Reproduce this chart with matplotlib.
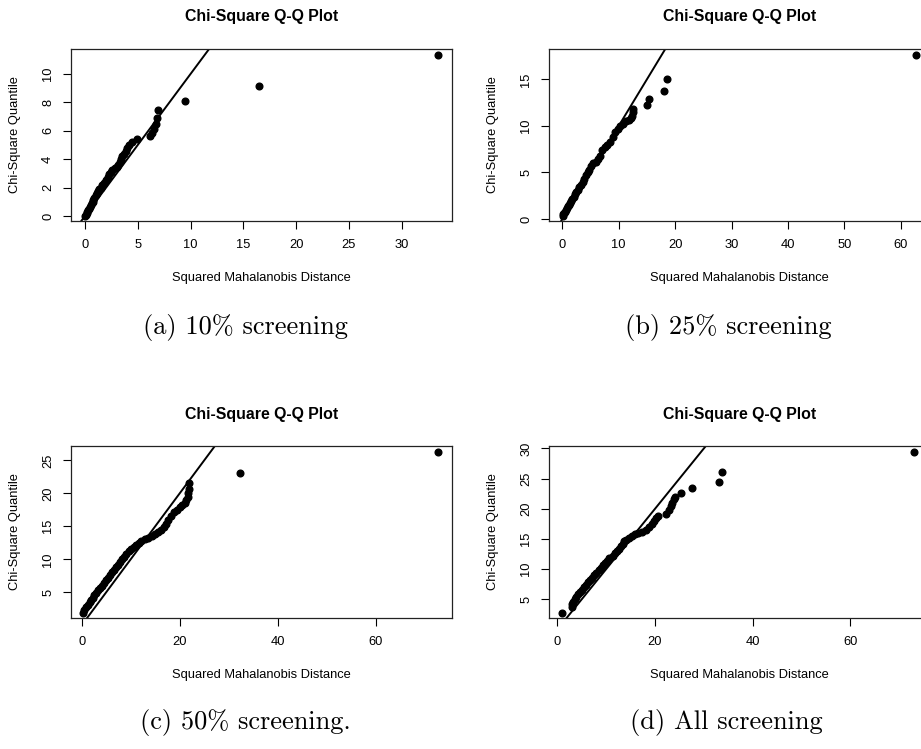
import matplotlib
matplotlib.use("Agg")
import matplotlib.pyplot as plt

# ---- data ----
xa = [0.02, 0.08, 0.15, 0.22, 0.3, 0.38, 0.45, 0.55, 0.65, 0.72, 0.8, 0.9, 1.0, 1.1, 1.2,
      1.35, 1.5, 1.65, 1.85, 2.0, 2.15, 2.3, 2.45, 2.6, 2.8, 3.0, 3.15, 3.3, 3.4, 3.55,
      3.7, 3.85, 4.0, 4.2, 4.5, 4.95, 6.15, 6.35, 6.55, 6.7, 6.8, 6.9, 9.5, 16.5, 33.4]
ya = [0.02, 0.1, 0.2, 0.3, 0.4, 0.52, 0.65, 0.78, 0.9, 1.02, 1.15, 1.3, 1.48, 1.62, 1.75,
      1.88, 2.0, 2.15, 2.35, 2.55, 2.75, 2.95, 3.1, 3.22, 3.35, 3.48, 3.6, 3.8, 4.0, 4.2,
      4.4, 4.6, 4.82, 4.99, 5.18, 5.39, 5.61, 5.87, 6.16, 6.51, 6.92, 7.43, 8.12, 9.13, 11.34]

xb = [0.05, 0.15, 0.3, 0.45, 0.6, 0.8, 1.0, 1.2, 1.4, 1.6, 1.8, 2.0, 2.25, 2.5, 2.75,
      3.0, 3.3, 3.6, 3.9, 4.2, 4.5, 4.8, 5.1, 5.5, 5.9, 6.3, 6.7, 7.1, 7.5, 8.0,
      8.5, 9.0, 9.4, 9.8, 10.3, 10.8, 11.3, 11.8, 12.2, 12.4, 12.5, 12.6, 15.1, 15.35, 18.0,
      18.55, 62.7]
yb = [0.35, 0.5, 0.65, 0.8, 0.95, 1.15, 1.35, 1.55, 1.75, 1.95, 2.15, 2.4, 2.65, 2.9, 3.15,
      3.4, 3.7, 4.0, 4.35, 4.7, 5.0, 5.3, 5.7, 6.0, 6.15, 6.4, 6.8, 7.4, 7.75, 7.95,
      8.3, 8.8, 9.3, 9.7, 10.0, 10.2, 10.5, 10.6, 10.8, 11.1, 11.5, 11.85, 12.25, 12.9, 13.75,
      15.0, 17.6]

xc = [0.3, 0.5, 0.8, 1.3, 1.6, 1.9, 2.3, 2.6, 3.0, 3.4, 3.7, 4.1, 4.5, 4.9, 5.3,
      5.7, 6.1, 6.5, 6.9, 7.4, 7.8, 8.3, 8.7, 9.1, 9.6, 10.1, 10.6, 11.1, 11.6, 12.2,
      12.9, 13.6, 14.3, 14.9, 15.5, 16.1, 16.7, 17.2, 17.7, 18.2, 18.8, 19.4, 20.0, 20.5, 21.0,
      21.3, 21.6, 21.7, 21.8, 21.9, 32.2, 72.7]
yc = [1.9, 2.3, 2.7, 3.1, 3.5, 3.85, 4.2, 4.55, 4.9, 5.3, 5.65, 6.0, 6.4, 6.8, 7.2,
      7.6, 8.0, 8.4, 8.8, 9.2, 9.6, 10.0, 10.4, 10.8, 11.2, 11.5, 11.8, 12.1, 12.4, 12.7,
      13.0, 13.3, 13.6, 13.9, 14.2, 14.5, 14.9, 15.4, 16.0, 16.6, 17.1, 17.5, 17.9, 18.2, 18.6,
      19.0, 19.5, 20.0, 20.6, 21.5, 23.1, 26.2]

xd = [1.0, 3.0, 3.1, 3.3, 3.6, 3.9, 4.3, 4.6, 5.0, 5.4, 5.8, 6.3, 6.6, 7.0, 7.5,
      8.0, 8.5, 9.0, 9.4, 9.8, 10.2, 10.6, 11.4, 11.9, 12.3, 12.6, 13.0, 13.4, 13.7, 14.1,
      14.6, 15.2, 15.9, 16.6, 17.4, 18.2, 18.8, 19.3, 19.8, 20.3, 20.7, 22.2, 22.8, 23.2, 23.5,
      23.8, 24.1, 25.4, 27.5, 33.1, 33.8, 73.1]
yd = [2.8, 3.8, 4.2, 4.6, 5.0, 5.4, 5.8, 6.2, 6.6, 7.0, 7.4, 7.8, 8.2, 8.6, 9.0,
      9.4, 9.8, 10.2, 10.6, 11.0, 11.4, 11.8, 12.2, 12.6, 13.0, 13.4, 13.8, 14.2, 14.6, 14.9,
      15.2, 15.5, 15.8, 16.0, 16.2, 16.5, 16.9, 17.4, 17.9, 18.4, 18.8, 19.2, 19.8, 20.4, 21.0,
      21.6, 22.0, 22.6, 23.4, 24.5, 26.1, 29.4]

xticks_a = [0, 5, 10, 15, 20, 25, 30]
yticks_a = [0, 2, 4, 6, 8, 10]
xticks_b = [0, 10, 20, 30, 40, 50, 60]
yticks_b = [0, 5, 10, 15]
xticks_c = [0, 20, 40, 60]
yticks_c = [5, 10, 15, 20, 25]
xticks_d = [0, 20, 40, 60]
yticks_d = [5, 10, 15, 20, 25, 30]

captions = ["(a) 10% screening", "(b) 25% screening", "(c) 50% screening.", "(d) All screening"]
title = "Chi-Square Q-Q Plot"
xlabel = "Squared Mahalanobis Distance"
ylabel = "Chi-Square Quantile"

# ---- figure ----
W, H = 921, 749
fig = plt.figure(figsize=(W / 100, H / 100), dpi=100)
plt.rcParams['font.family'] = ['Liberation Sans', 'DejaVu Sans']

AW, AH = 381.6, 172.0


def px_axes(left, top):
    return fig.add_axes([left / W, (H - top - AH) / H, AW / W, AH / H])


panels = [
    (70.7, 49, xa, ya, xticks_a, yticks_a, (-1.35, 34.8), (-0.35, 11.76)),
    (549.0, 49, xb, yb, xticks_b, yticks_b, (-2.36, 65.3), (-0.21, 18.26)),
    (70.7, 446, xc, yc, xticks_c, yticks_c, (-2.24, 75.6), (1.1, 27.17)),
    (549.0, 446, xd, yd, xticks_d, yticks_d, (-1.7, 76.4), (1.9, 30.4)),
]

fs = 9.3
for i, (l, t, xs, ys, xt, yt, xl, yl) in enumerate(panels):
    ax = px_axes(l, t)
    ax.plot(xs, ys, 'o', color='black', markersize=4.8, zorder=3)
    ax.axline((0, 0), slope=1, color='black', lw=1.4, zorder=2)
    ax.set_xlim(*xl)
    ax.set_ylim(*yl)
    ax.set_xticks(xt)
    ax.set_yticks(yt)
    ax.set_xticklabels([str(v) for v in xt])
    ax.set_yticklabels([str(v) for v in yt])
    ax.tick_params(axis='both', direction='out', length=6, width=0.8,
                   labelsize=fs, colors='black')
    ax.tick_params(axis='x', pad=7)
    ax.tick_params(axis='y', pad=6)
    for lab in ax.get_yticklabels():
        lab.set_rotation(90)
        lab.set_va('center')
        lab.set_ha('right')
    for s in ax.spines.values():
        s.set_linewidth(0.9)
        s.set_color('#222222')
    ax.text(0.5, 1 + 32 / AH, title, transform=ax.transAxes, ha='center', va='center',
            fontsize=11.4, fontweight='bold')
    ax.text(0.5, -57 / AH, xlabel, transform=ax.transAxes, ha='center', va='center',
            fontsize=fs)
    ax.text(-55.7 / AW, 0.5, ylabel, transform=ax.transAxes, ha='center', va='center',
            rotation=90, fontsize=fs)

cap_pos = [(245, 328), (728, 328), (245, 722), (726, 722)]
for (cx, cy), txt in zip(cap_pos, captions):
    fig.text(cx / W, 1 - cy / H, txt, ha='center', va='center', fontsize=19,
             family=['cmr10', 'DejaVu Serif'])

fig.savefig("out.png", dpi=100)
